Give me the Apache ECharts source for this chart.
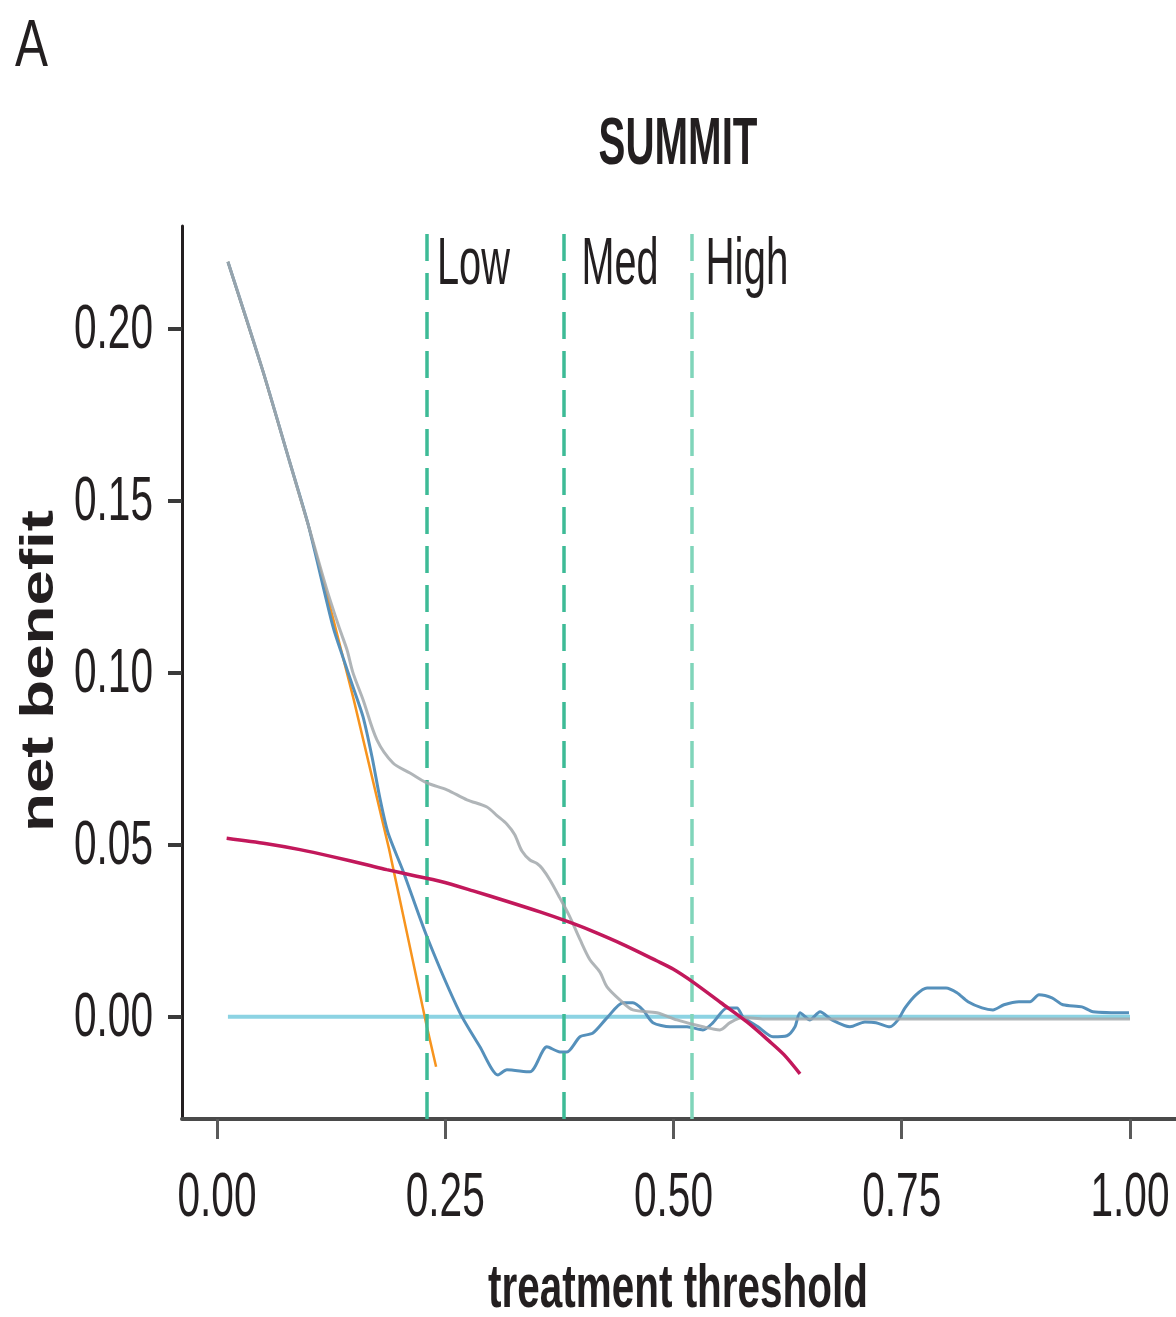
<!DOCTYPE html>
<html>
<head>
<meta charset="utf-8">
<script src="https://cdn.jsdelivr.net/npm/echarts@6/dist/echarts.min.js"></script>
<style>
html,body{margin:0;padding:0;background:#ffffff;}
#c{width:1176px;height:1317px;}
</style>
</head>
<body>
<div id="c"></div>
<script>
// ---------- texts ----------
const panelLabel = 'A';
const chartTitle = 'SUMMIT';
const xAxisTitle = 'treatment threshold';
const yAxisTitle = 'net benefit';

// ---------- ticks ----------
const xTickValues = [0, 0.25, 0.5, 0.75, 1];
const xTickLabels = ['0.00', '0.25', '0.50', '0.75', '1.00'];
const yTickValues = [0, 0.05, 0.10, 0.15, 0.20];
const yTickLabels = ['0.00', '0.05', '0.10', '0.15', '0.20'];

// ---------- risk category cut-offs ----------
const riskCuts = [0.2311, 0.3828, 0.5186];
const riskLabels = ['Low', 'Med', 'High'];

// ---------- curves (threshold, net benefit) ----------
const treatNone = [[0.012, 0], [1.0, 0]];

const treatAll = [
  [0.012, 0.2195], [0.05, 0.188], [0.08, 0.161], [0.10, 0.143], [0.127, 0.116],
  [0.15, 0.092], [0.1884, 0.0489], [0.21, 0.022], [0.23, -0.003], [0.24, -0.0145]
];

const modelGray = [
  [0.012, 0.2195], [0.05, 0.188], [0.08, 0.161], [0.10, 0.143], [0.12, 0.1245],
  [0.1347, 0.1125], [0.1424, 0.1067], [0.149, 0.100], [0.160, 0.0922], [0.1752, 0.0805],
  [0.1928, 0.0738], [0.2114, 0.0709], [0.230, 0.068], [0.2519, 0.066], [0.2738, 0.0631],
  [0.2957, 0.061], [0.3067, 0.0585], [0.3176, 0.0560], [0.3260, 0.0530], [0.3340, 0.0482],
  [0.3428, 0.0456], [0.3505, 0.0446], [0.3560, 0.0432], [0.3647, 0.0398], [0.3757, 0.0345],
  [0.3866, 0.029], [0.3976, 0.0225], [0.4085, 0.0166], [0.4195, 0.013], [0.4272, 0.0087],
  [0.4414, 0.0049], [0.4556, 0.002], [0.4819, 0.0012], [0.5038, -0.0009], [0.5323, -0.0029],
  [0.5509, -0.0038], [0.5619, -0.0017], [0.5761, -0.0002], [0.60, -0.0006], [0.80, -0.0006],
  [1.0, -0.0006]
];

const modelBlue = [
  [0.012, 0.2195], [0.05, 0.188], [0.08, 0.161], [0.10, 0.143], [0.127, 0.1135],
  [0.138, 0.1045], [0.149, 0.0959], [0.160, 0.0872], [0.1698, 0.0756], [0.1785, 0.0635],
  [0.1873, 0.0535], [0.2041, 0.0422], [0.230, 0.0233], [0.266, 0.0012], [0.288, -0.0087],
  [0.3078, -0.0169], [0.3176, -0.0154], [0.3428, -0.0160], [0.3614, -0.0087], [0.3757, -0.0102],
  [0.3834, -0.0102], [0.3976, -0.0058], [0.4118, -0.0047], [0.4272, -0.0003], [0.4447, 0.0041],
  [0.4556, 0.0041], [0.4666, 0.0020], [0.4775, -0.0017], [0.4962, -0.0029], [0.5148, -0.0029],
  [0.5323, -0.0038], [0.5433, -0.0017], [0.5586, 0.0026], [0.5696, 0.0026], [0.5761, 0.0],
  [0.5926, -0.0029], [0.6090, -0.0058], [0.6243, -0.0055], [0.6331, -0.0029], [0.6386, 0.0012],
  [0.6495, -0.0009], [0.6605, 0.0015], [0.6736, -0.0009], [0.6933, -0.0029], [0.7097, -0.0015],
  [0.7218, -0.0017], [0.7371, -0.0029], [0.7459, -0.0009], [0.7536, 0.0026], [0.7656, 0.0064],
  [0.7777, 0.0084], [0.7985, 0.0084], [0.8105, 0.0070], [0.8226, 0.0044], [0.8379, 0.0026],
  [0.8499, 0.0020], [0.8620, 0.0035], [0.8784, 0.0044], [0.8905, 0.0044], [0.9003, 0.0064],
  [0.9146, 0.0055], [0.9266, 0.0035], [0.9474, 0.0029], [0.9595, 0.0015], [0.9989, 0.0012]
];

const modelCrimson = [
  [0.0106, 0.0519], [0.0544, 0.0503], [0.0909, 0.0486], [0.1273, 0.0465], [0.164, 0.0442],
  [0.1859, 0.0428], [0.215, 0.0411], [0.2442, 0.0394], [0.2806, 0.0366], [0.3173, 0.0336],
  [0.3538, 0.0305], [0.383, 0.0278], [0.4085, 0.0252], [0.445, 0.0210], [0.4816, 0.0163],
  [0.4995, 0.0139], [0.5214, 0.0101], [0.552, 0.0041], [0.5805, -0.0015], [0.6046, -0.0070],
  [0.621, -0.0110], [0.6386, -0.0166]
];

// ---------- chart ----------
const chart = echarts.init(document.getElementById('c'), null, {renderer: 'canvas'});
const X_MIN = -0.0383, X_MAX = 1.0504, Y_MIN = -0.0297, Y_MAX = 0.2299;
const riskColors = ['#3dbb96', '#3dbb96', '#80d5ba'];

const option = {
  animation: false,
  backgroundColor: '#ffffff',
  grid: {left: 182, right: 0, top: 226, bottom: 198, containLabel: false},
  xAxis: {
    type: 'value', min: X_MIN, max: X_MAX,
    axisLine: {show: true, onZero: false, lineStyle: {color: '#4a4a4a', width: 4}},
    axisTick: {show: true, customValues: xTickValues, length: 20, lineStyle: {color: '#5a5a5a', width: 3}},
    axisLabel: {show: false, customValues: xTickValues},
    splitLine: {show: false}
  },
  yAxis: {
    type: 'value', min: Y_MIN, max: Y_MAX,
    axisLine: {show: true, onZero: false, lineStyle: {color: '#231f20', width: 3}},
    axisTick: {show: true, customValues: yTickValues, length: 14, lineStyle: {color: '#3a3a3a', width: 4}},
    axisLabel: {show: false, customValues: yTickValues},
    splitLine: {show: false}
  },
  series: [
    {
      name: 'treat none', type: 'line', data: treatNone, showSymbol: false, silent: true,
      lineStyle: {color: '#8cd3e3', width: 4}, z: 2,
      markLine: {
        silent: true, symbol: ['none', 'none'], label: {show: false},
        data: riskCuts.map((v, i) => ({xAxis: v, lineStyle: {color: riskColors[i], width: 3.5, type: [27, 12]}}))
      }
    },
    {name: 'treat all', type: 'line', data: treatAll, showSymbol: false, silent: true,
      lineStyle: {color: '#f7941e', width: 2.5}, z: 3},
    {name: 'blue', type: 'line', data: modelBlue, showSymbol: false, silent: true, smooth: 0.25,
      lineStyle: {color: '#5590bb', width: 3}, z: 4},
    {name: 'gray', type: 'line', data: modelGray, showSymbol: false, silent: true, smooth: 0.3,
      lineStyle: {color: '#a2a8ab', width: 3, opacity: 0.85}, z: 5},
    {name: 'crimson', type: 'line', data: modelCrimson, showSymbol: false, silent: true, smooth: 0.3,
      lineStyle: {color: '#c2185b', width: 3.5}, z: 6}
  ]
};
chart.setOption(option);

// ---------- condensed text via graphic ----------
const mctx = document.createElement('canvas').getContext('2d');
const FAMILY = '"Liberation Sans", Arial, sans-serif';
const TEXT_COLOR = '#231f20';
function txt(str, x, y, o) {
  const font = (o.weight || 'normal') + ' ' + o.size + 'px ' + FAMILY;
  mctx.font = font;
  const w = mctx.measureText(str).width;
  return {
    type: 'text', x: x, y: y, rotation: o.rot || 0, scaleX: o.width / w, silent: true, z: 100,
    style: {text: str, font: font, fill: TEXT_COLOR, align: o.align || 'center', verticalAlign: 'middle'}
  };
}
const px = (x, y) => chart.convertToPixel({gridIndex: 0}, [x, y]);
const g = [];
g.push(txt(panelLabel, 15, 48, {size: 67, width: 33, align: 'left'}));
g.push(txt(chartTitle, 678, 146, {size: 67, weight: 'bold', width: 159}));
xTickValues.forEach((v, i) => {
  const p = px(v, 0);
  g.push(txt(xTickLabels[i], p[0], 1199, {size: 63, width: 79}));
});
yTickValues.forEach((v, i) => {
  const p = px(0, v);
  g.push(txt(yTickLabels[i], 153, p[1] + 2, {size: 63, width: 79, align: 'right'}));
});
const riskLabelOffsets = [9, 15, 15];
const riskLabelWidths = [73, 77, 83];
riskCuts.forEach((v, i) => {
  const p = px(v, 0);
  g.push(txt(riskLabels[i], p[0] + riskLabelOffsets[i], 266, {size: 67, width: riskLabelWidths[i], align: 'left'}));
});
g.push(txt(xAxisTitle, 678, 1290, {size: 62, weight: 'bold', width: 380}));
g.push(txt(yAxisTitle, 40, 671, {size: 46, weight: 'bold', width: 322, rot: Math.PI / 2}));
chart.setOption({graphic: g});
</script>
</body>
</html>
